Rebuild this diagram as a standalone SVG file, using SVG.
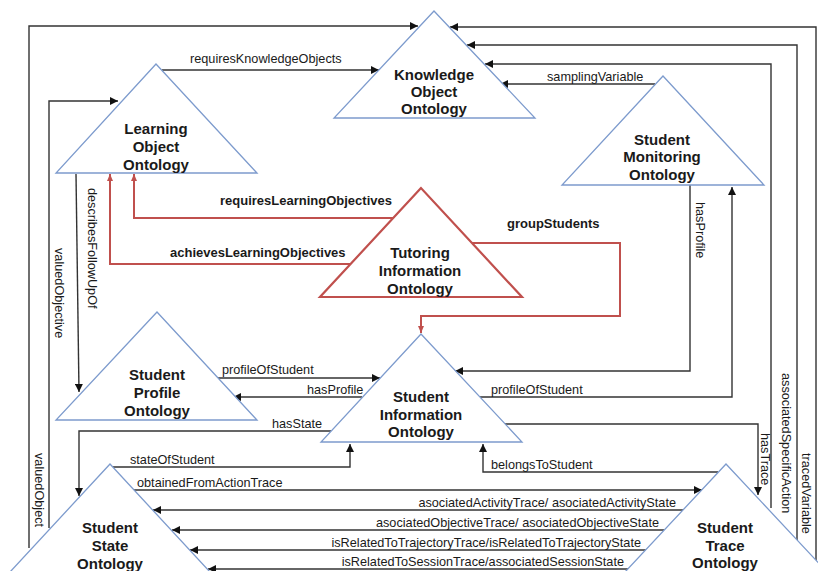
<svg xmlns="http://www.w3.org/2000/svg" width="818" height="571" viewBox="0 0 818 571">
<style>
.tri{fill:#fff;stroke:#7d9bcd;stroke-width:1.3}
.tri-red{fill:#fff;stroke:#c0504d;stroke-width:2.2}
.nt{font-family:"Liberation Sans",Arial,sans-serif;font-size:15px;font-weight:bold;fill:#1a1a1a;text-anchor:middle}
.c{fill:none;stroke:#333;stroke-width:1.4;marker-end:url(#ah)}
.cr{fill:none;stroke:#c0504d;stroke-width:2;marker-end:url(#ahr)}
.lb{font-family:"Liberation Sans",Arial,sans-serif;font-size:12.7px;fill:#1a1a1a}
.lbr{font-family:"Liberation Sans",Arial,sans-serif;font-size:13px;font-weight:bold;fill:#1a1a1a}
</style>
<defs>
<marker id="ah" viewBox="0 0 8 8" refX="8" refY="4" markerWidth="8" markerHeight="8" markerUnits="userSpaceOnUse" orient="auto"><path d="M0,0L8,4L0,8z" fill="#111"/></marker>
<marker id="ahr" viewBox="0 0 7 6" refX="7" refY="3" markerWidth="7" markerHeight="6" markerUnits="userSpaceOnUse" orient="auto"><path d="M0,0L7,3L0,6z" fill="#c0504d"/></marker>
</defs>
<rect width="818" height="571" fill="#fff"/>

<g id="connectors">
<path class="c" d="M29,548V26H418"/>
<path class="c" d="M49,528V101H118"/>
<path class="c" d="M76,174L79,392"/>
<path class="c" d="M162,70H379"/>
<path class="c" d="M816,563V27H450"/>
<path class="c" d="M797,541V45H467"/>
<path class="c" d="M771,508V64H485"/>
<path class="c" d="M655,84H500"/>
<path class="c" d="M690,185V371H455"/>
<path class="c" d="M480,397H732V187"/>
<path class="c" d="M217,378H380"/>
<path class="c" d="M362,397H233"/>
<path class="c" d="M331,431H79V496"/>
<path class="c" d="M113,467H350V444"/>
<path class="c" d="M718,472H483V444"/>
<path class="c" d="M505,424H758V495"/>
<path class="c" d="M134,490H702"/>
<path class="c" d="M683,510H153"/>
<path class="c" d="M664,530H172"/>
<path class="c" d="M646,550H190"/>
<path class="c" d="M628,569H208"/>
<path class="cr" d="M393,218H134V174"/>
<path class="cr" d="M351,264H110V174"/>
<path class="cr" d="M472,243H620V316H421V333"/>

<text class="lb" x="190" y="63">requiresKnowledgeObjects</text>
<text class="lb" x="547" y="81">samplingVariable</text>
<text class="lb" transform="translate(88,188) rotate(90)">describesFollowUpOf</text>
<text class="lb" transform="translate(55,248) rotate(90)">valuedObjective</text>
<text class="lb" transform="translate(35,453) rotate(90)">valuedObject</text>
<text class="lb" transform="translate(696,202) rotate(90)">hasProfile</text>
<text class="lb" transform="translate(761,433) rotate(90)">hasTrace</text>
<text class="lb" transform="translate(782,373) rotate(90)">associatedSpecificAction</text>
<text class="lb" transform="translate(802,453) rotate(90)">tracedVariable</text>
<text class="lb" x="222" y="374">profileOfStudent</text>
<text class="lb" x="307" y="394">hasProfile</text>
<text class="lb" x="272" y="428">hasState</text>
<text class="lb" x="130" y="464">stateOfStudent</text>
<text class="lb" x="137" y="487">obtainedFromActionTrace</text>
<text class="lb" x="491" y="394">profileOfStudent</text>
<text class="lb" x="491" y="469">belongsToStudent</text>
<text class="lb" x="676" y="507" text-anchor="end">asociatedActivityTrace/ asociatedActivityState</text>
<text class="lb" x="659" y="527" text-anchor="end">asociatedObjectiveTrace/ asociatedObjectiveState</text>
<text class="lb" x="641" y="547" text-anchor="end">isRelatedToTrajectoryTrace/isRelatedToTrajectoryState</text>
<text class="lb" x="624" y="566" text-anchor="end">isRelatedToSessionTrace/associatedSessionState</text>
<text class="lbr" x="220" y="205">requiresLearningObjectives</text>
<text class="lbr" x="170" y="257">achievesLearningObjectives</text>
<text class="lbr" x="507" y="228">groupStudents</text>
</g>

<g id="knowledge-object-ontology">
<polygon class="tri" points="434,11 334,118 535,118"/>
<text class="nt" x="434" y="80">Knowledge</text>
<text class="nt" x="434" y="97">Object</text>
<text class="nt" x="434" y="114">Ontology</text>
</g>
<g id="learning-object-ontology">
<polygon class="tri" points="156,64 56,173 257,173"/>
<text class="nt" x="156" y="134">Learning</text>
<text class="nt" x="156" y="152">Object</text>
<text class="nt" x="156" y="170">Ontology</text>
</g>
<g id="student-monitoring-ontology">
<polygon class="tri" points="663,76 562,185 764,185"/>
<text class="nt" x="662" y="145">Student</text>
<text class="nt" x="662" y="162">Monitoring</text>
<text class="nt" x="662" y="180">Ontology</text>
</g>
<g id="tutoring-information-ontology">
<polygon class="tri-red" points="421,188 320,297 522,297"/>
<text class="nt" x="420" y="258">Tutoring</text>
<text class="nt" x="420" y="276">Information</text>
<text class="nt" x="420" y="294">Ontology</text>
</g>
<g id="student-information-ontology">
<polygon class="tri" points="421,334 321,442 522,442"/>
<text class="nt" x="421" y="402">Student</text>
<text class="nt" x="421" y="420">Information</text>
<text class="nt" x="421" y="437">Ontology</text>
</g>
<g id="student-profile-ontology">
<polygon class="tri" points="157,312 56,420 257,420"/>
<text class="nt" x="157" y="380">Student</text>
<text class="nt" x="157" y="398">Profile</text>
<text class="nt" x="157" y="416">Ontology</text>
</g>
<g id="student-state-ontology">
<polygon class="tri" points="110,464 10,572 210,572"/>
<text class="nt" x="110" y="533">Student</text>
<text class="nt" x="110" y="551">State</text>
<text class="nt" x="110" y="569">Ontology</text>
</g>
<g id="student-trace-ontology">
<polygon class="tri" points="726,464 625,572 827,572"/>
<text class="nt" x="725" y="533">Student</text>
<text class="nt" x="725" y="551">Trace</text>
<text class="nt" x="725" y="568">Ontology</text>
</g>
</svg>
